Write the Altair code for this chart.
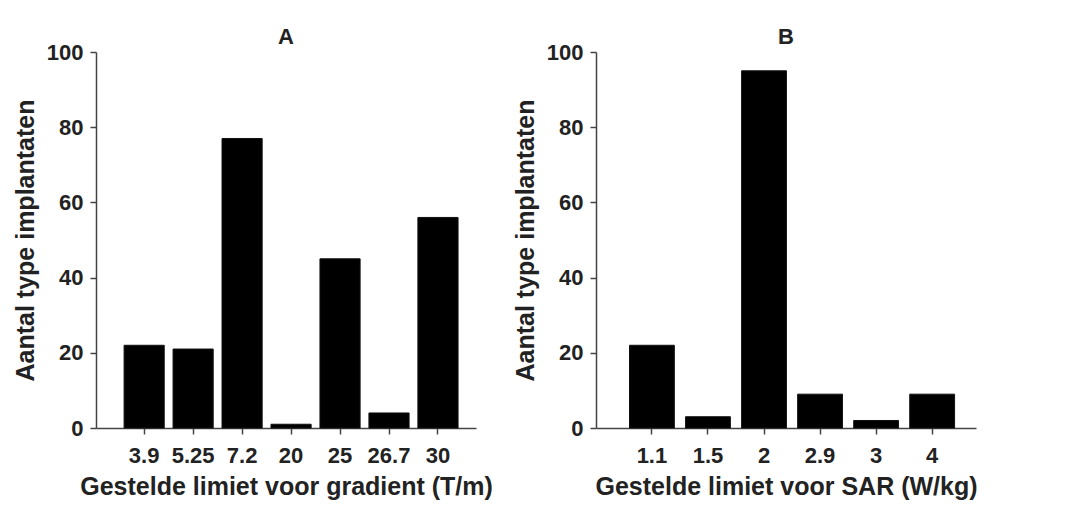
import altair as alt
import pandas as pd

grad_labels = ["3.9", "5.25", "7.2", "20", "25", "26.7", "30"]
grad_counts = [22, 21, 77, 1, 45, 4, 56]

sar_labels = ["1.1", "1.5", "2", "2.9", "3", "4"]
sar_counts = [22, 3, 95, 9, 2, 9]

y_ticks = [0, 20, 40, 60, 80, 100]

FONT = "Liberation Sans"
TXT = "#222222"
AX = "#444444"


def panel(labels, counts, title, xtitle, pin, pout, align):
    df = pd.DataFrame({"k": labels, "v": counts})
    return (
        alt.Chart(
            df,
            title=alt.TitleParams(
                title, font=FONT, fontSize=22, fontWeight="bold", color=TXT, offset=-8
            ),
        )
        .mark_bar(color="black", stroke="#111111", strokeWidth=1)
        .encode(
            x=alt.X(
                "k:N",
                sort=labels,
                scale=alt.Scale(paddingInner=pin, paddingOuter=pout, align=align),
                axis=alt.Axis(
                    title=xtitle,
                    labelAngle=0,
                    labelPadding=11,
                    titlePadding=8,
                    tickSize=6,
                ),
            ),
            y=alt.Y(
                "v:Q",
                scale=alt.Scale(domain=[0, 100]),
                axis=alt.Axis(
                    values=y_ticks,
                    title="Aantal type implantaten",
                    grid=False,
                    tickSize=6,
                    labelPadding=7,
                    titlePadding=8,
                ),
            ),
        )
        .properties(width=380, height=376)
    )


a = panel(grad_labels, grad_counts, "A", "Gestelde limiet voor gradient (T/m)", 0.18, 0.47, 0.61)
b = panel(sar_labels, sar_counts, "B", "Gestelde limiet voor SAR (W/kg)", 0.2, 0.49, 0.61)

chart = (
    alt.hconcat(a, b, spacing=120, bounds="flush")
    .properties(padding={"left": 5, "top": 18, "right": 5, "bottom": 5})
    .configure_view(stroke=None)
    .configure_axis(
        labelFont=FONT,
        labelFontSize=22,
        labelFontWeight="bold",
        labelColor=TXT,
        titleFont=FONT,
        titleFontSize=25,
        titleFontWeight="bold",
        titleColor=TXT,
        domainColor=AX,
        domainWidth=1.5,
        tickColor=AX,
        tickWidth=1.5,
    )
)

chart.save("out.html", embed_options={"renderer": "svg", "actions": False})
